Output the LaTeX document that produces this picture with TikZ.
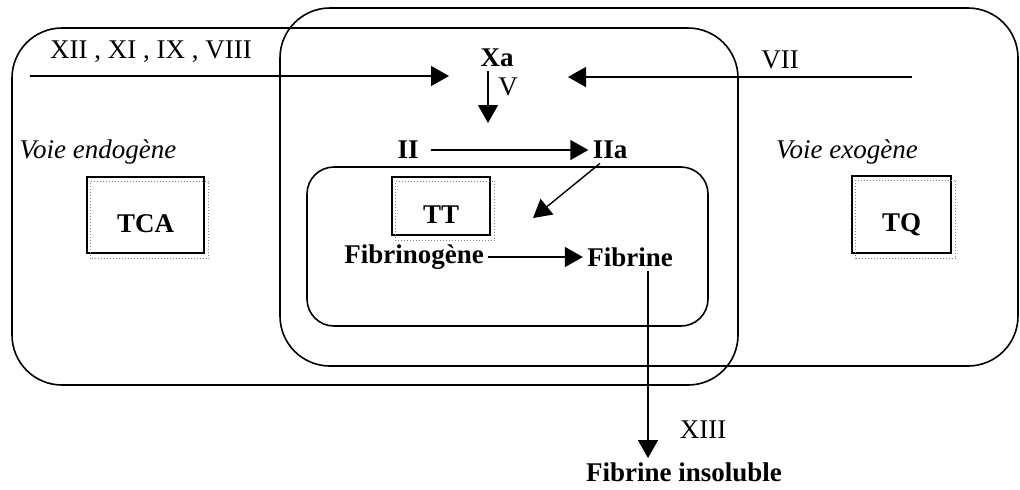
\documentclass[tikz,border=0pt]{standalone}
\usepackage{fontspec}
\setmainfont{Liberation Serif}
\usetikzlibrary{arrows.meta}

\begin{document}
\begin{tikzpicture}[x=0.5pt,y=-0.5pt,
  txt/.style={font=\fontsize{13.5}{16}\selectfont, inner sep=2pt},
  prot/.style={font=\fontsize{13.5}{16}\selectfont\bfseries, inner sep=2pt},
  voie/.style={font=\fontsize{13.5}{16}\selectfont\itshape, inner sep=2pt},
  testbox/.style={prot, draw, line width=0.8pt, text height=17pt, text depth=0pt},
  arr/.style={-{Triangle[length=9pt,width=10pt]}, line width=0.7pt},
  zone/.style={line width=0.8pt, rounded corners=25pt}]
\useasboundingbox (0,0) rectangle (1020,489);

% Zones
\draw[zone] (12,28) rectangle (738,385);
\draw[zone] (280,8) rectangle (1018,366);
\draw[zone, rounded corners=13.5pt] (307,167) rectangle (708,326);

% Tests
\node[testbox, minimum width=58.5pt, minimum height=38pt] (tca) at (145.5,215) {TCA};
\node[testbox, minimum width=49pt, minimum height=29pt] (tt) at (441,206) {TT};
\node[testbox, minimum width=49.5pt, minimum height=38.5pt] (tq) at (901.5,214.5) {TQ};
\foreach \b in {tca,tt,tq}
  \draw[gray, densely dotted, line width=0.5pt] ([shift={(4,5)}]\b.south west) rectangle ([shift={(4,5)}]\b.north east);

% Facteurs
\node[txt] (endoF) at (151,52) {XII , XI , IX , VIII};
\node[txt] (exoF) at (780,60) {VII};
\node[voie] (endo) at (98,152) {Voie endogène};
\node[voie] (exo) at (847,152) {Voie exogène};
\node[prot] (Xa) at (497,58) {Xa};
\node[txt] (v) at (508,87) {V};
\node[prot] (II) at (408,150) {II};
\node[prot] (IIa) at (610,150) {IIa};
\node[prot] (fbg) at (414,257) {Fibrinogène};
\node[prot] (fbn) at (630,257) {Fibrine};
\node[prot] (insol) at (684,472) {Fibrine insoluble};
\node[txt] (f13) at (703,430) {XIII};

% Arrows
\coordinate (endoStart) at (30,76);
\coordinate (endoEnd) at (449,76);
\coordinate (exoStart) at (912,77);
\coordinate (exoEnd) at (568,77);
\coordinate (xaEnd) at (488,123);
\coordinate (ttIn) at (533,218);
\draw[arr] (endoStart) -- (endoEnd);
\draw[arr] (exoStart) -- (exoEnd);
\draw[arr] (Xa.south -| xaEnd) -- (xaEnd);
\draw[arr] ([xshift=4pt]II.east) -- (IIa.west);
\draw[arr] ([xshift=-5pt]IIa.south) -- (ttIn);
\draw[arr] (fbg.east) -- (fbn.west);
\draw[arr] ([xshift=9pt]fbn.south) -- ([xshift=9pt]fbn.south |- insol.north);
\end{tikzpicture}
\end{document}
